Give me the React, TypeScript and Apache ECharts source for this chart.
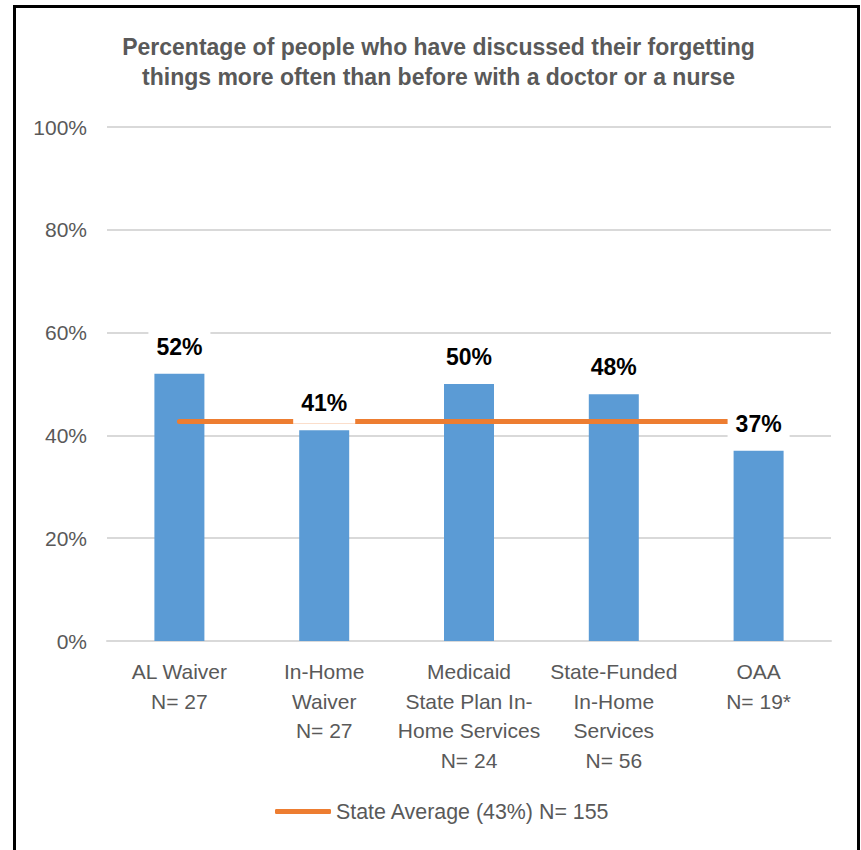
import React, { useEffect, useRef } from "react";
import * as echarts from "echarts";

const titleLines = [
  "Percentage of people who have discussed their forgetting",
  "things more often than before with a doctor or a nurse",
];
const categories = [
  "AL Waiver\nN= 27",
  "In-Home\nWaiver\nN= 27",
  "Medicaid\nState Plan In-\nHome Services\nN= 24",
  "State-Funded\nIn-Home\nServices\nN= 56",
  "OAA\nN= 19*",
];
const programValues = [52, 41, 50, 48, 37];
const stateAverageName = "State Average (43%) N= 155";
const stateAverageLine = [42.7, 42.7, 42.7, 42.7, 42.7];
const yTicks = { min: 0, max: 100, interval: 20 };

const FONT = "'Liberation Sans', Arial, sans-serif";
const GRAY = "#595959";

export default function App() {
  const ref = useRef<HTMLDivElement>(null);
  useEffect(() => {
    if (!ref.current) return;
    const chart = echarts.init(ref.current, undefined, { renderer: "svg" });
    chart.setOption({
      animation: false,
      backgroundColor: "#ffffff",
      textStyle: { fontFamily: FONT },
      graphic: [
        {
          type: "rect",
          z: -1,
          shape: { x: 14.5, y: 6.5, width: 844, height: 900 },
          style: { fill: "none", stroke: "#000", lineWidth: 3 },
        },
        {
          type: "text",
          x: 438.5,
          y: 62,
          style: {
            text: titleLines.join("\n"),
            fontFamily: FONT,
            fontSize: 23,
            fontWeight: "bold",
            fill: GRAY,
            align: "center",
            verticalAlign: "middle",
            lineHeight: 30,
          },
        },
      ],
      grid: { left: 107, right: 30, top: 127, bottom: 209, containLabel: false },
      legend: {
        data: [stateAverageName],
        left: 275,
        top: 801,
        padding: 0,
        itemWidth: 56,
        itemHeight: 5,
        icon: "roundRect",
        textStyle: { fontFamily: FONT, fontSize: 21.4, color: GRAY },
      },
      xAxis: {
        type: "category",
        data: categories,
        axisTick: { show: false },
        axisLine: { lineStyle: { color: "#D9D9D9", width: 2 } },
        axisLabel: {
          interval: 0,
          margin: 16,
          fontFamily: FONT,
          fontSize: 21,
          color: GRAY,
          lineHeight: 29.5,
        },
      },
      yAxis: {
        type: "value",
        min: yTicks.min,
        max: yTicks.max,
        interval: yTicks.interval,
        axisLine: { show: false },
        axisTick: { show: false },
        splitLine: { lineStyle: { color: "#D9D9D9", width: 2 } },
        axisLabel: {
          formatter: "{value}%",
          margin: 20,
          fontFamily: FONT,
          fontSize: 21,
          color: GRAY,
        },
      },
      series: [
        {
          name: "Programs",
          type: "bar",
          data: programValues,
          barWidth: 50,
          z: 2,
          itemStyle: { color: "#5B9BD5" },
        },
        {
          name: stateAverageName,
          type: "line",
          data: stateAverageLine,
          z: 3,
          symbol: "none",
          lineStyle: { color: "#ED7D31", width: 5, cap: "round" },
          itemStyle: { color: "#ED7D31" },
        },
        {
          name: "Labels",
          type: "bar",
          data: programValues,
          barWidth: 50,
          barGap: "-100%",
          z: 5,
          itemStyle: { color: "rgba(0,0,0,0)" },
          label: {
            show: true,
            position: "top",
            distance: 6.5,
            formatter: "{c}%",
            fontFamily: FONT,
            fontSize: 23,
            fontWeight: "bold",
            color: "#000000",
            lineHeight: 23,
            backgroundColor: "#ffffff",
            padding: [4, 8, 9, 8],
          },
        },
      ],
    });
    return () => chart.dispose();
  }, []);
  return (
    <div
      ref={ref}
      style={{ position: "absolute", left: 0, top: 0, width: 861, height: 850 }}
    />
  );
}
